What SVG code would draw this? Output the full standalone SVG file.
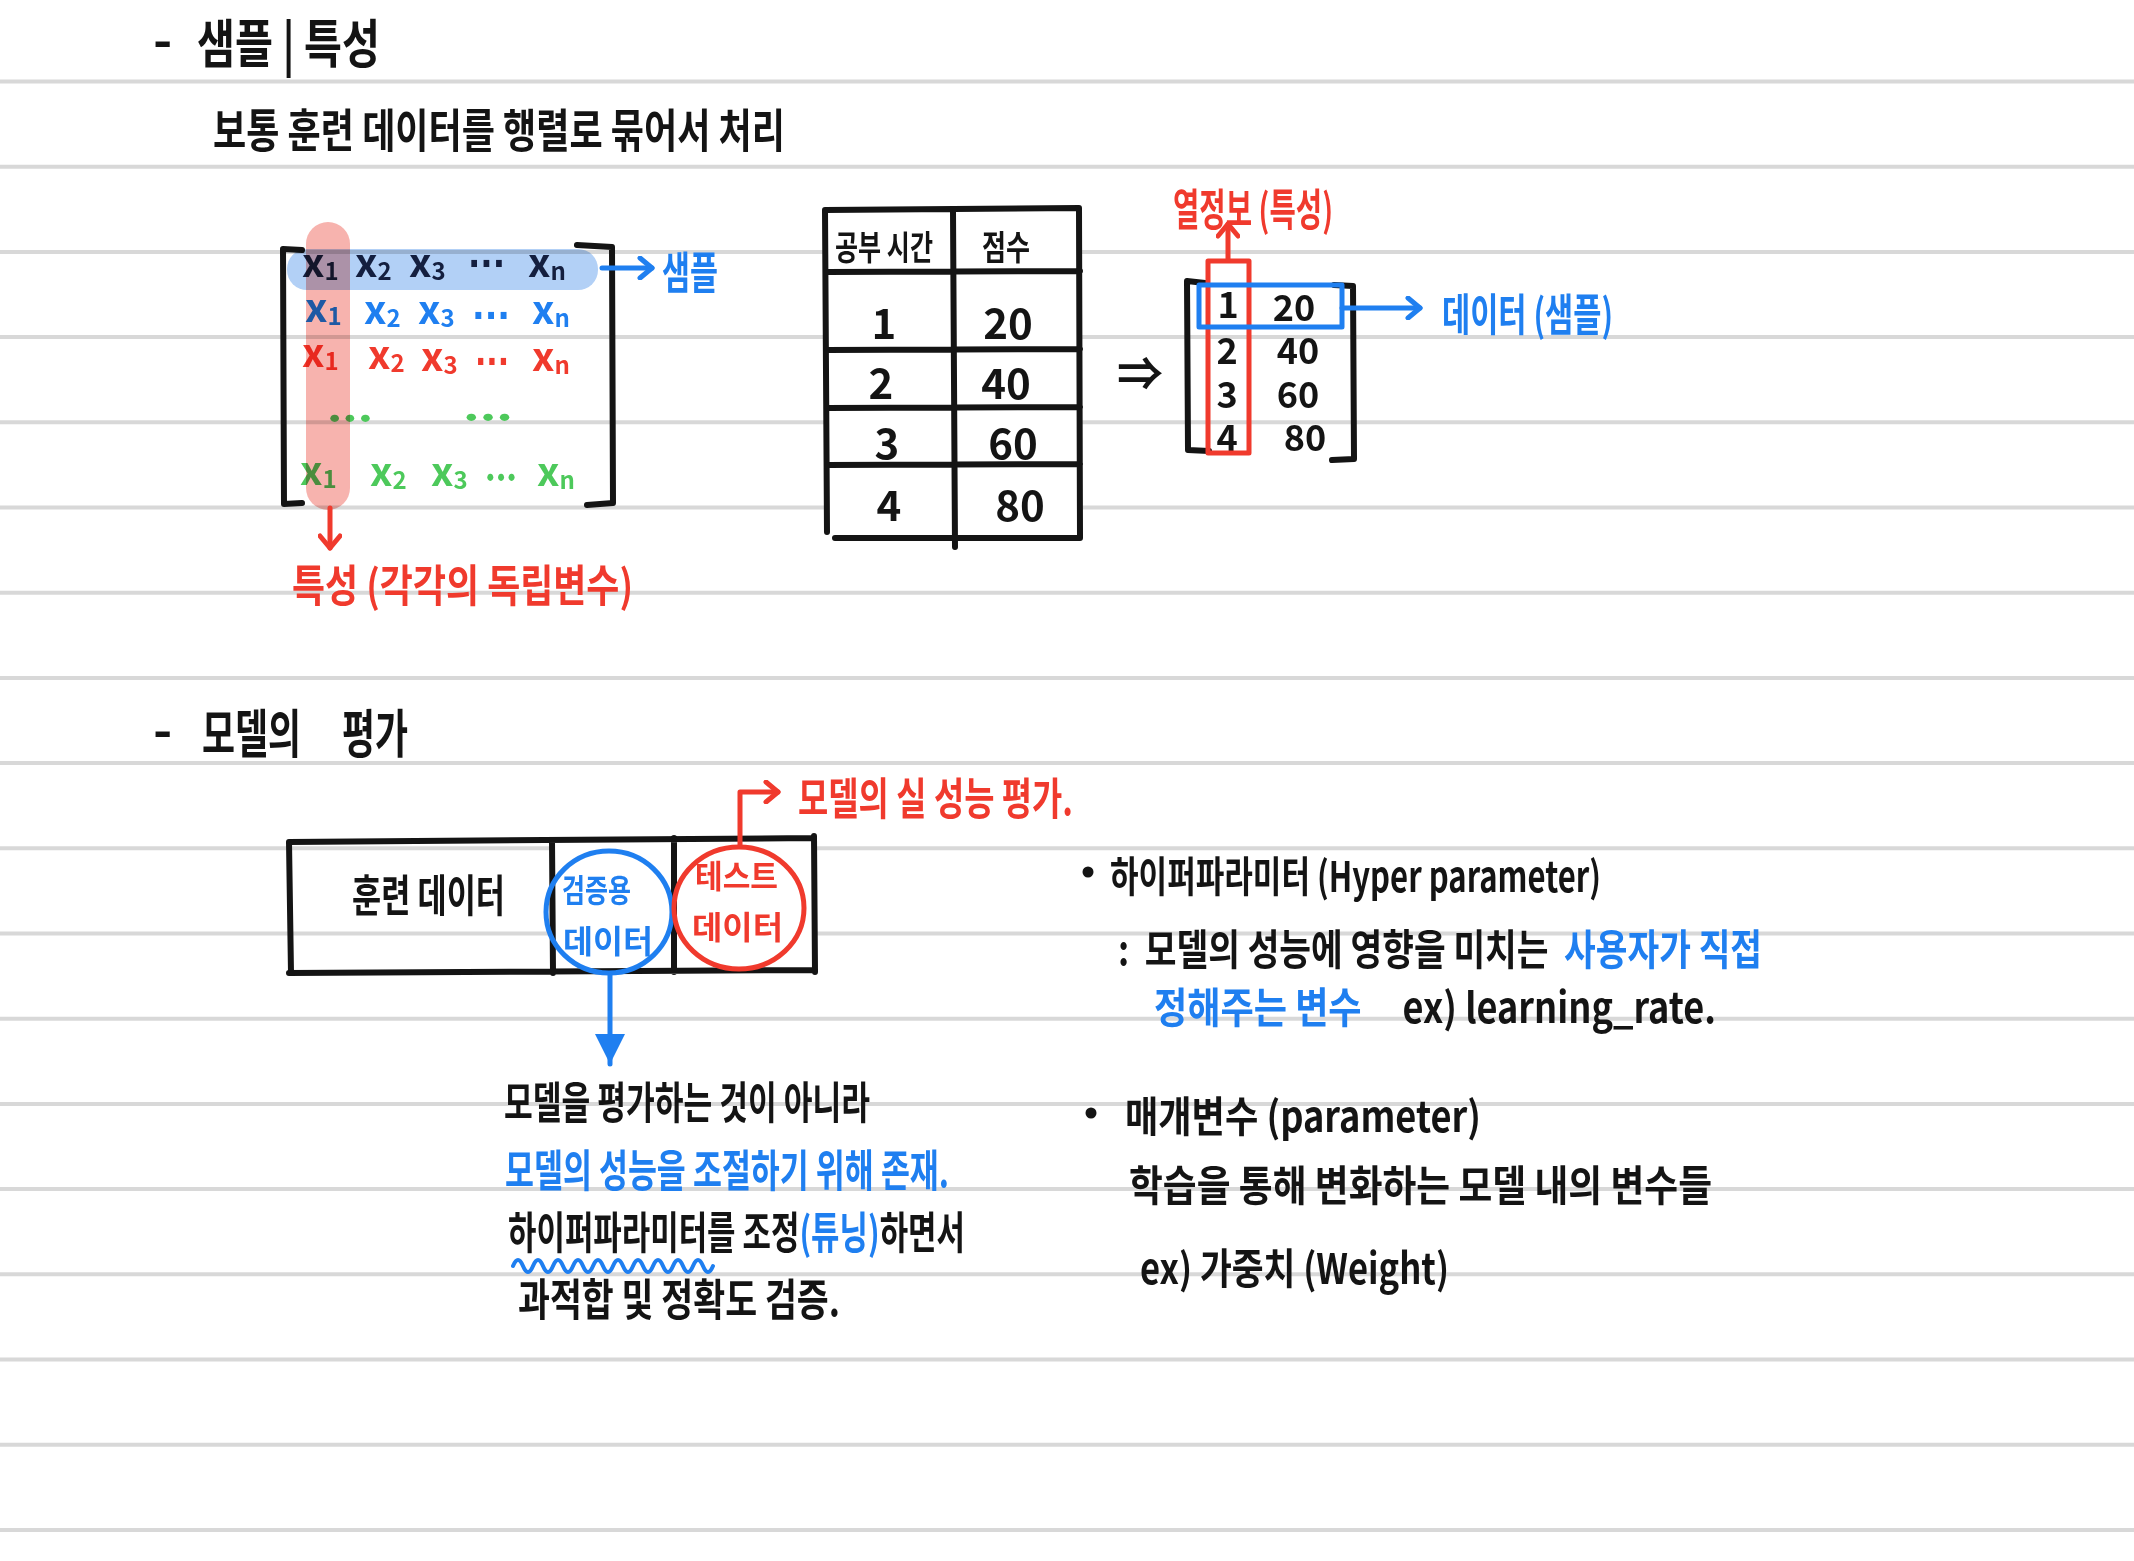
<svg xmlns="http://www.w3.org/2000/svg" width="2134" height="1561" viewBox="0 0 2134 1561">
<style>
text{font-family:"Noto Sans CJK KR","Noto Sans",sans-serif;font-weight:700;dominant-baseline:central}
.bk{fill:#141414}.bl{fill:#1f7ff0}.rd{fill:#f03a2d}.gr{fill:#4dc95b}.nv{fill:#1c2541}
.rule{stroke:#d8d8d8;stroke-width:4}
.ink{fill:none;stroke:#141414;stroke-width:6;stroke-linecap:round;stroke-linejoin:round}
.inkb{fill:none;stroke:#1f7ff0;stroke-width:5;stroke-linecap:round;stroke-linejoin:round}
.inkr{fill:none;stroke:#f03a2d;stroke-width:5;stroke-linecap:round;stroke-linejoin:round}
.x{font-family:"DejaVu Sans",sans-serif;font-size:40px;font-weight:700}
.sub{font-size:24px}
.d{font-family:"DejaVu Sans",sans-serif;font-size:38px;font-weight:700}
.h{font-size:52px}
.t{font-size:46px}
.m{font-size:34px}
.n{font-family:"Noto Sans","DejaVu Sans",sans-serif;font-size:42px;text-anchor:middle}
.hl{mix-blend-mode:multiply}
</style>
<defs>
<marker id="arR" viewBox="0 0 24 24" refX="20" refY="12" markerWidth="24" markerHeight="24" markerUnits="userSpaceOnUse" orient="auto"><path d="M8,2 L20,12 L8,22" fill="none" stroke="#f03a2d" stroke-width="5" stroke-linecap="round" stroke-linejoin="round"/></marker>
<marker id="arB" viewBox="0 0 24 24" refX="20" refY="12" markerWidth="24" markerHeight="24" markerUnits="userSpaceOnUse" orient="auto"><path d="M8,2 L20,12 L8,22" fill="none" stroke="#1f7ff0" stroke-width="5" stroke-linecap="round" stroke-linejoin="round"/></marker>
<marker id="triB" viewBox="0 0 34 32" refX="32" refY="16" markerWidth="34" markerHeight="32" markerUnits="userSpaceOnUse" orient="auto"><path d="M2,1 L32,16 L2,31 Z" fill="#1f7ff0"/></marker>
</defs>
<rect width="2134" height="1561" fill="#fff"/>
<g id="rules" class="rule">
<line x1="0" y1="81.5" x2="2134" y2="81.5"/><line x1="0" y1="166.7" x2="2134" y2="166.7"/>
<line x1="0" y1="251.9" x2="2134" y2="251.9"/><line x1="0" y1="337.1" x2="2134" y2="337.1"/>
<line x1="0" y1="422.3" x2="2134" y2="422.3"/><line x1="0" y1="507.5" x2="2134" y2="507.5"/>
<line x1="0" y1="592.7" x2="2134" y2="592.7"/><line x1="0" y1="677.9" x2="2134" y2="677.9"/>
<line x1="0" y1="763.1" x2="2134" y2="763.1"/><line x1="0" y1="848.3" x2="2134" y2="848.3"/>
<line x1="0" y1="933.5" x2="2134" y2="933.5"/><line x1="0" y1="1018.7" x2="2134" y2="1018.7"/>
<line x1="0" y1="1103.9" x2="2134" y2="1103.9"/><line x1="0" y1="1189.1" x2="2134" y2="1189.1"/>
<line x1="0" y1="1274.3" x2="2134" y2="1274.3"/><line x1="0" y1="1359.5" x2="2134" y2="1359.5"/>
<line x1="0" y1="1444.7" x2="2134" y2="1444.7"/><line x1="0" y1="1529.9" x2="2134" y2="1529.9"/>
</g>

<g id="heading1">
<text x="153" y="36" class="h bk">-</text>
<text x="197" y="40" class="h bk" textLength="183" lengthAdjust="spacingAndGlyphs">샘플 | 특성</text>
<text x="213" y="127" class="t bk" textLength="572" lengthAdjust="spacingAndGlyphs">보통 훈련 데이터를 행렬로 묶어서 처리</text>
</g>

<g id="matrix1">
<path class="ink" d="M302,250 L283,249 L284,504 L302,503"/>
<path class="ink" d="M577,245 L612,247 L613,503 L587,505"/>
<g class="x nv">
<text x="302" y="260">x<tspan class="sub" dy="9">1</tspan></text>
<text x="355" y="260">x<tspan class="sub" dy="9">2</tspan></text>
<text x="409" y="260">x<tspan class="sub" dy="9">3</tspan></text>
<text x="528" y="260">x<tspan class="sub" dy="9">n</tspan></text>
</g>
<text x="468" y="254" class="d nv" textLength="37" lengthAdjust="spacingAndGlyphs">...</text>
<g class="x bl">
<text x="305" y="305">x<tspan class="sub" dy="9">1</tspan></text>
<text x="364" y="307">x<tspan class="sub" dy="9">2</tspan></text>
<text x="418" y="307">x<tspan class="sub" dy="9">3</tspan></text>
<text x="532" y="307">x<tspan class="sub" dy="9">n</tspan></text>
</g>
<text x="472" y="306" class="d bl" textLength="38" lengthAdjust="spacingAndGlyphs">...</text>
<g class="x rd">
<text x="302" y="350">x<tspan class="sub" dy="9">1</tspan></text>
<text x="368" y="352">x<tspan class="sub" dy="9">2</tspan></text>
<text x="421" y="354">x<tspan class="sub" dy="9">3</tspan></text>
<text x="532" y="354">x<tspan class="sub" dy="9">n</tspan></text>
</g>
<text x="475" y="352" class="d rd" textLength="34" lengthAdjust="spacingAndGlyphs">...</text>
<g class="d gr">
<text x="327" y="405" textLength="46" lengthAdjust="spacingAndGlyphs">...</text>
<text x="463" y="404" textLength="50" lengthAdjust="spacingAndGlyphs">...</text>
<text x="485" y="464" textLength="32" lengthAdjust="spacingAndGlyphs">...</text>
</g>
<g class="x gr">
<text x="300" y="468">x<tspan class="sub" dy="9">1</tspan></text>
<text x="370" y="469">x<tspan class="sub" dy="9">2</tspan></text>
<text x="431" y="469">x<tspan class="sub" dy="9">3</tspan></text>
<text x="537" y="469">x<tspan class="sub" dy="9">n</tspan></text>
</g>
<rect class="hl" x="287" y="249" width="311" height="41" rx="20" fill="#b2d0f6"/>
<rect class="hl" x="306" y="222" width="44" height="288" rx="22" fill="#f7b3ae"/>
</g>

<g id="label-sample1">
<text x="662" y="270" class="bl" font-size="44" textLength="56" lengthAdjust="spacingAndGlyphs">샘플</text>
</g>
<g id="label-feature1">
<text x="292" y="583" class="rd" font-size="44" textLength="341" lengthAdjust="spacingAndGlyphs">특성 (각각의 독립변수)</text>
</g>

<g id="table">
<rect x="826" y="210" width="253" height="328" fill="#fff"/>
<path class="ink" d="M825,210 L1079,208 M825,210 L827,532 M1079,208 L1080,538 M953,211 L955,547 M827,272 L1080,271 M827,350 L1080,349 M827,408 L1080,407 M827,465 L1080,464 M835,538 L1080,538"/>
<text x="835" y="245" class="m bk" textLength="98" lengthAdjust="spacingAndGlyphs">공부 시간</text>
<text x="982" y="245" class="m bk" textLength="48" lengthAdjust="spacingAndGlyphs">점수</text>
<g class="n bk">
<text x="884" y="320">1</text><text x="1008" y="320">20</text>
<text x="881" y="380">2</text><text x="1006" y="380">40</text>
<text x="887" y="440">3</text><text x="1013" y="440">60</text>
<text x="889" y="502">4</text><text x="1020" y="502">80</text>
</g>
</g>

<g id="implies">
<text x="1140" y="370" font-family="DejaVu Sans" font-size="46" font-weight="400" text-anchor="middle" class="bk">⇒</text>
</g>

<g id="matrix2">
<path class="ink" d="M1205,283 L1187,281 L1188,450 L1209,451"/>
<path class="ink" d="M1334,285 L1353,286 L1354,459 L1332,460"/>
<g class="n bk" style="font-size:36px">
<text x="1228" y="302">1</text><text x="1294" y="305">20</text>
<text x="1227" y="348">2</text><text x="1298" y="348">40</text>
<text x="1227" y="392">3</text><text x="1298" y="392">60</text>
<text x="1227" y="435">4</text><text x="1305" y="435">80</text>
</g>
<rect x="1208" y="261" width="41" height="192" class="inkr"/>
<rect x="1199" y="285" width="143" height="42" class="inkb"/>
</g>

<g id="label-column">
<text x="1173" y="207" class="rd" font-size="44" textLength="160" lengthAdjust="spacingAndGlyphs">열정보 (특성)</text>
</g>
<g id="label-data">
<text x="1442" y="312" class="bl" font-size="44" textLength="171" lengthAdjust="spacingAndGlyphs">데이터 (샘플)</text>
</g>

<g id="heading2">
<text x="153" y="726" class="h bk">-</text>
<text x="202" y="730" class="h bk" textLength="206" lengthAdjust="spacingAndGlyphs">모델의&#160;&#160;&#160;&#160;&#160;평가</text>
</g>

<g id="split-box">
<rect x="553" y="840" width="261" height="132" fill="#fff"/>
<path class="ink" d="M289,842 L814,838 M289,973 L815,970 M289,842 L291,973 M814,836 L815,972 M552,840 L553,973 M674,838 L674,972"/>
<text x="352" y="893" class="bk" font-size="44" textLength="153" lengthAdjust="spacingAndGlyphs">훈련 데이터</text>
</g>
<g id="validation">
<ellipse cx="609" cy="912" rx="63" ry="61" class="inkb"/>
<text x="562" y="888" class="bl" font-size="32" textLength="69" lengthAdjust="spacingAndGlyphs">검증용</text>
<text x="563" y="939" class="bl" font-size="32" textLength="90" lengthAdjust="spacingAndGlyphs">데이터</text>
</g>
<g id="test">
<ellipse cx="739" cy="908" rx="65" ry="61" class="inkr"/>
<text x="695" y="874" class="rd" font-size="32" textLength="83" lengthAdjust="spacingAndGlyphs">테스트</text>
<text x="692" y="925" class="rd" font-size="32" textLength="91" lengthAdjust="spacingAndGlyphs">데이터</text>
</g>
<g id="label-test">
<text x="798" y="796" class="rd" font-size="44" textLength="275" lengthAdjust="spacingAndGlyphs">모델의 실 성능 평가.</text>
</g>

<g id="validation-note">
<text x="504" y="1100" class="bk" font-size="44" textLength="366" lengthAdjust="spacingAndGlyphs">모델을 평가하는 것이 아니라</text>
<text x="505" y="1168" class="bl" font-size="44" textLength="444" lengthAdjust="spacingAndGlyphs">모델의 성능을 조절하기 위해 존재.</text>
<text x="508" y="1230" class="bk" font-size="44" textLength="457" lengthAdjust="spacingAndGlyphs">하이퍼파라미터를 조정<tspan class="bl">(튜닝)</tspan>하면서</text>
<path class="inkb" style="stroke-width:4" d="M513,1266 q5,-12 10,0 t10,0 t10,0 t10,0 t10,0 t10,0 t10,0 t10,0 t10,0 t10,0 t10,0 t10,0 t10,0 t10,0 t10,0 t10,0 t10,0 t10,0 t10,0 t10,0"/>
<text x="518" y="1297" class="bk" font-size="44" textLength="322" lengthAdjust="spacingAndGlyphs">과적합 및 정확도 검증.</text>
</g>

<g id="hyperparameter">
<circle cx="1088" cy="872" r="5.5" fill="#141414"/>
<text x="1110" y="873" class="bk" font-size="42" textLength="491" lengthAdjust="spacingAndGlyphs">하이퍼파라미터 (Hyper parameter)</text>
<text x="1118" y="946" class="bk" font-size="42" textLength="644" lengthAdjust="spacingAndGlyphs">:&#160;&#160;모델의 성능에 영향을 미치는&#160;&#160;<tspan class="bl">사용자가 직접</tspan></text>
<text x="1154" y="1004" class="bl" font-size="42" textLength="562" lengthAdjust="spacingAndGlyphs">정해주는 변수&#160;&#160;&#160;&#160;&#160;<tspan class="bk">ex) learning_rate.</tspan></text>
</g>

<g id="parameter">
<circle cx="1091" cy="1113" r="5.5" fill="#141414"/>
<text x="1125" y="1113" class="bk" font-size="42" textLength="356" lengthAdjust="spacingAndGlyphs">매개변수 (parameter)</text>
<text x="1129" y="1182" class="bk" font-size="42" textLength="583" lengthAdjust="spacingAndGlyphs">학습을 통해 변화하는 모델 내의 변수들</text>
<text x="1140" y="1265" class="bk" font-size="42" textLength="309" lengthAdjust="spacingAndGlyphs">ex) 가중치 (Weight)</text>
</g>

<g id="connectors" fill="none" stroke-width="5" stroke-linecap="round" stroke-linejoin="round">
<path d="M330,508 L330,548" stroke="#f03a2d" marker-end="url(#arR)"/>
<path d="M602,268 L652,268" stroke="#1f7ff0" marker-end="url(#arB)"/>
<path d="M1228,260 L1228,224" stroke="#f03a2d" marker-end="url(#arR)"/>
<path d="M1342,308 L1420,308" stroke="#1f7ff0" marker-end="url(#arB)"/>
<path d="M740,846 L740,792 L778,792" stroke="#f03a2d" marker-end="url(#arR)"/>
<path d="M610,975 L610,1064" stroke="#1f7ff0" marker-end="url(#triB)"/>
</g>
</svg>
